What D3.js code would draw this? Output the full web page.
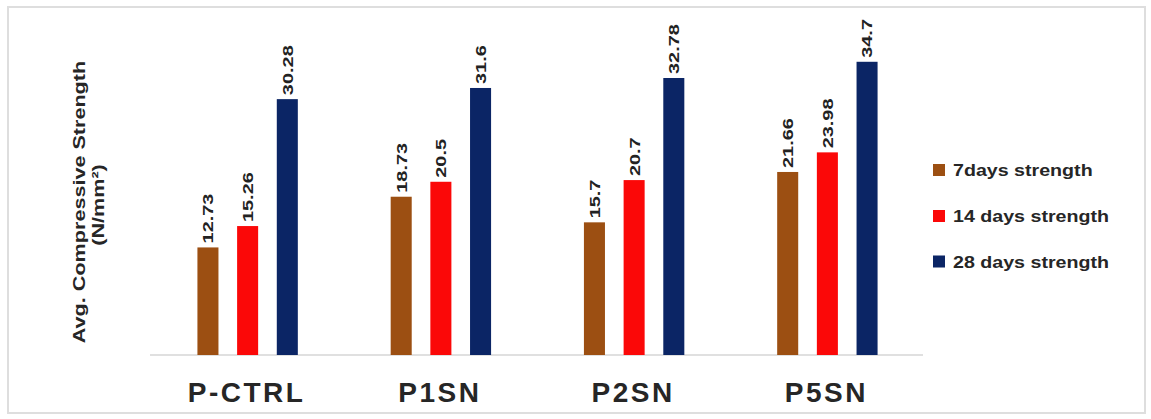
<!DOCTYPE html>
<html>
<head>
<meta charset="utf-8">
<script src="https://cdn.jsdelivr.net/npm/d3@7"></script>
<style>
  html, body { margin: 0; padding: 0; background: #fff; }
  svg { display: block; font-family: "Liberation Sans", Arial, sans-serif; }
</style>
</head>
<body>
<svg id="chart" width="1151" height="419"></svg>
<script>
// Mix designations
const mixes = ["P-CTRL", "P1SN", "P2SN", "P5SN"];

// Curing ages shown as series
const seriesNames = ["7days strength", "14 days strength", "28 days strength"];

// Average compressive strength (N/mm²) per mix
const strength7 = [12.73, 18.73, 15.7, 21.66];
const strength14 = [15.26, 20.5, 20.7, 23.98];
const strength28 = [30.28, 31.6, 32.78, 34.7];

const seriesValues = [strength7, strength14, strength28];
const seriesColors = ["#9c4f12", "#fb0808", "#0b2565"];

const svg = d3.select("#chart");
const W = 1151, H = 419;

// outer frame
svg.append("rect")
  .attr("x", 8).attr("y", 7)
  .attr("width", 1137).attr("height", 406)
  .attr("fill", "#fff")
  .attr("stroke", "#dedede")
  .attr("stroke-width", 2);

const x0 = d3.scaleBand()
  .domain(mixes)
  .range([151, 924])
  .padding(0);

const x1 = d3.scaleBand()
  .domain(seriesNames)
  .range([0, x0.bandwidth()])
  .paddingInner(0.47)
  .paddingOuter(1.17)
  .align(0.5);

const y = d3.scaleLinear()
  .domain([0, 40])
  .range([355, 17]);

// baseline
svg.append("line")
  .attr("x1", x0.range()[0] - 1).attr("x2", x0.range()[1] - 1)
  .attr("y1", y(0)).attr("y2", y(0))
  .attr("stroke", "#d6d6d6")
  .attr("stroke-width", 1.5);

const rows = [];
mixes.forEach((m, i) => {
  seriesNames.forEach((s, j) => {
    rows.push({ mix: m, series: s, value: seriesValues[j][i], color: seriesColors[j] });
  });
});

// bars
svg.append("g").selectAll("rect")
  .data(rows)
  .join("rect")
  .attr("x", d => x0(d.mix) + x1(d.series))
  .attr("y", d => y(d.value))
  .attr("width", x1.bandwidth())
  .attr("height", d => y(0) - y(d.value))
  .attr("fill", d => d.color);

// value labels, rotated
svg.append("g").selectAll("text")
  .data(rows)
  .join("text")
  .attr("transform", d => {
    const cx = x0(d.mix) + x1(d.series) + x1.bandwidth() / 2;
    return `translate(${cx},${y(d.value) - 4}) rotate(-90) scale(1.33,1)`;
  })
  .attr("y", 5.4)
  .attr("text-anchor", "start")
  .attr("font-size", 15)
  .attr("font-weight", "bold")
  .attr("fill", "#222")
  .text(d => String(d.value));

// category labels
svg.append("g").selectAll("text")
  .data(mixes)
  .join("text")
  .attr("x", d => x0(d) + x0.bandwidth() / 2 - 1)
  .attr("y", 402)
  .attr("text-anchor", "middle")
  .attr("font-size", 28)
  .attr("font-weight", "bold")
  .attr("letter-spacing", "2.5px")
  .attr("fill", "#262626")
  .text(d => d);

// y-axis title
const yTitle = [
  { text: "Avg. Compressive Strength", bx: 85, cy: 202 },
  { text: "(N/mm²)", bx: 104, cy: 205 }
];
svg.append("g").selectAll("text")
  .data(yTitle)
  .join("text")
  .attr("transform", d => `translate(${d.bx - 16 * 0.0},${d.cy}) rotate(-90) scale(1.35,1)`)
  .attr("text-anchor", "middle")
  .attr("font-size", 16)
  .attr("font-weight", "bold")
  .attr("fill", "#262626")
  .text(d => d.text);

// legend
const legend = svg.append("g");
const legendRowY = [176, 222, 267.5];
const item = legend.selectAll("g")
  .data(seriesNames)
  .join("g")
  .attr("transform", (d, i) => `translate(933,${legendRowY[i]})`);
item.append("rect")
  .attr("x", 0).attr("y", -12)
  .attr("width", 12).attr("height", 12)
  .attr("fill", (d, i) => seriesColors[i]);
item.append("text")
  .attr("transform", "translate(20,0) scale(1.155,1)")
  .attr("font-size", 17)
  .attr("font-weight", "bold")
  .attr("fill", "#262626")
  .text(d => d);
</script>
</body>
</html>
